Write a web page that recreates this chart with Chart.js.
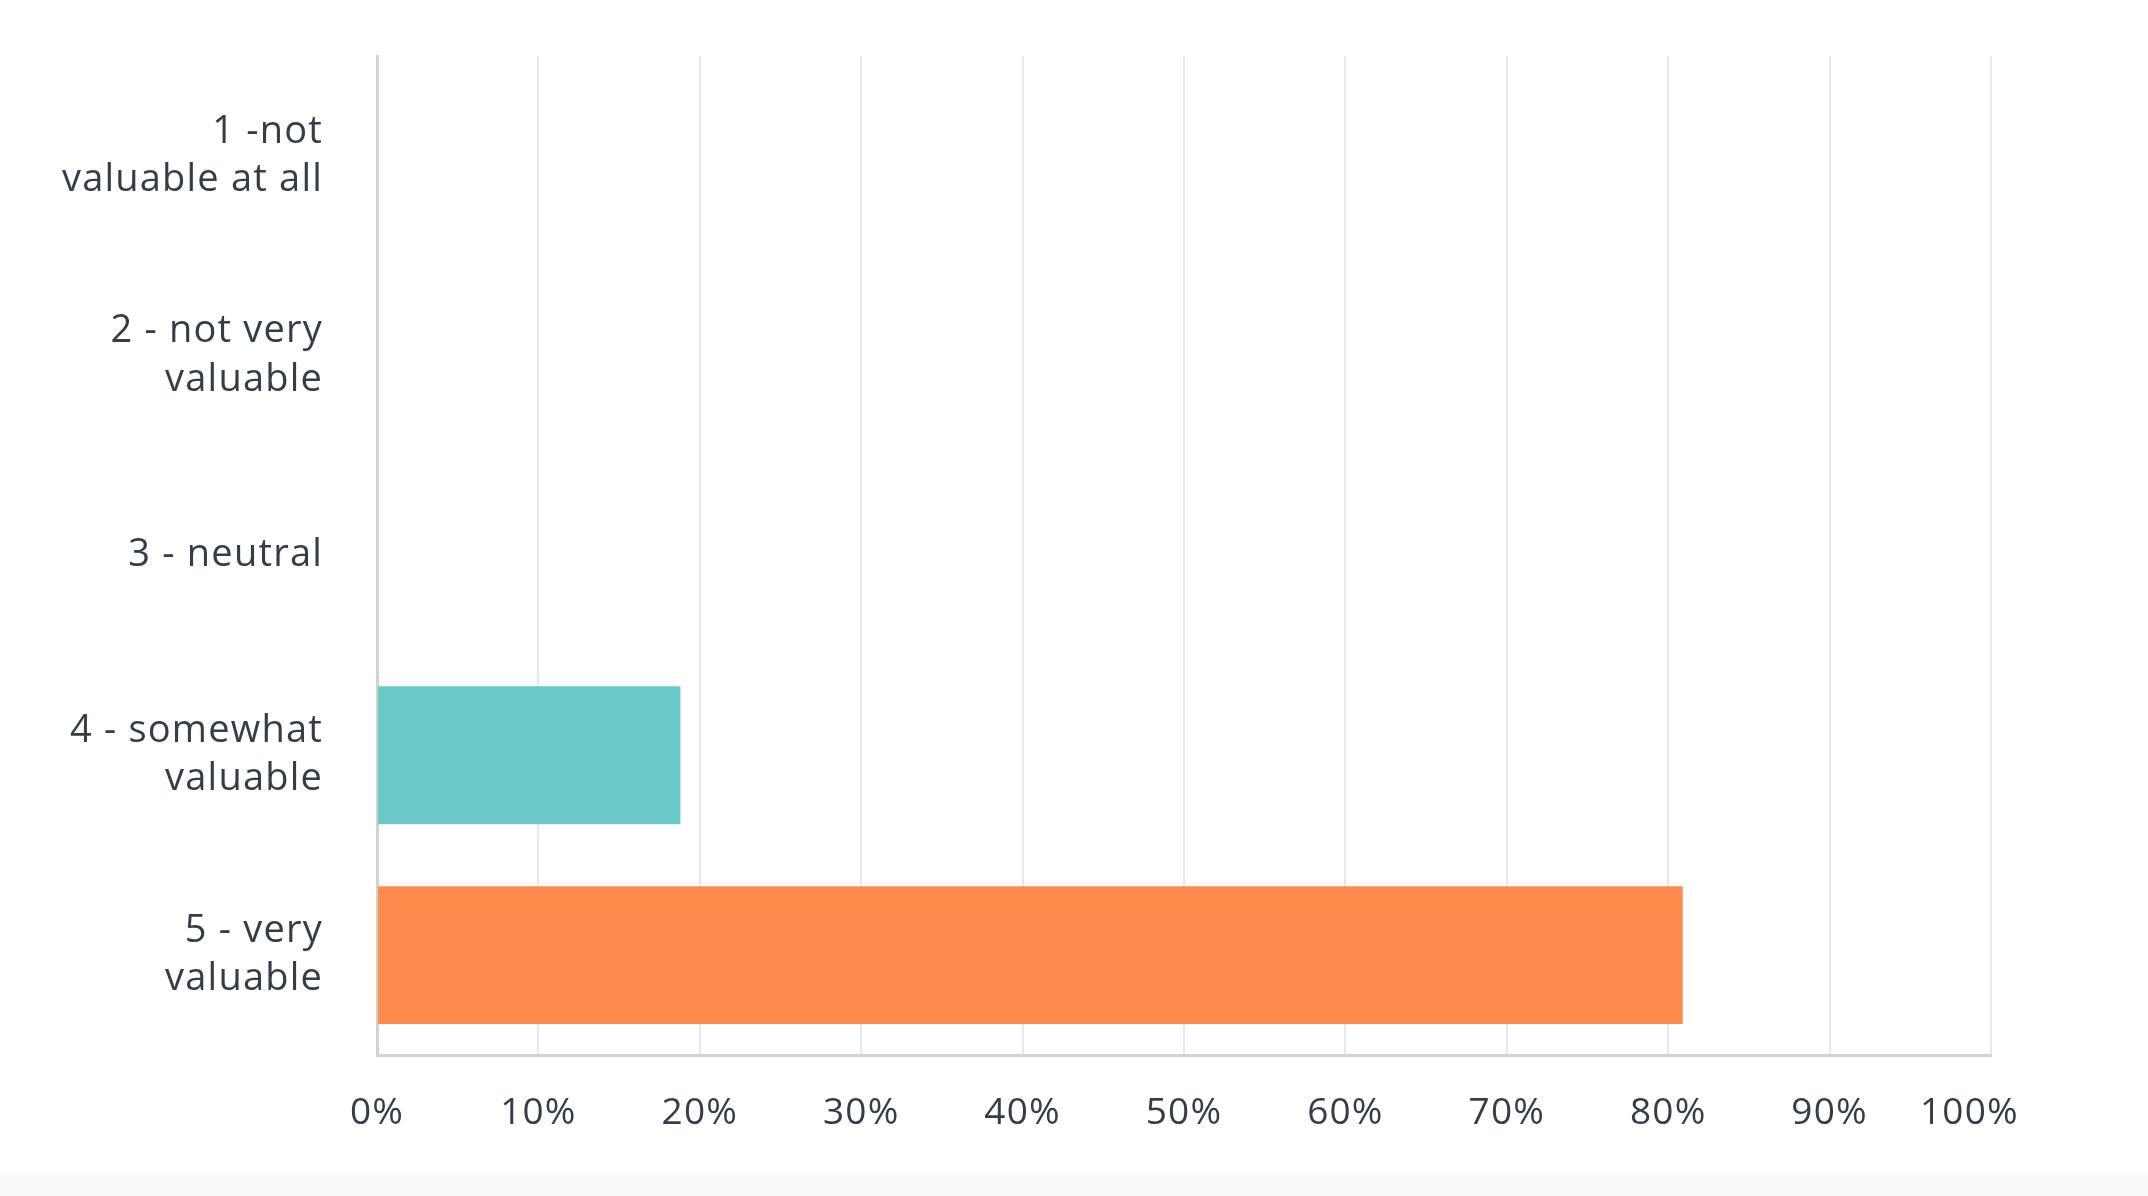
<!DOCTYPE html>
<html>
<head>
<meta charset="utf-8">
<title>How valuable</title>
<script src="https://cdn.jsdelivr.net/npm/chart.js@4.4.0/dist/chart.umd.min.js"></script>
<style>
    html, body {
        margin: 0;
        padding: 0;
        background: #ffffff;
    }
    #wrap {
        position: relative;
        width: 2148px;
        height: 1196px;
        background: linear-gradient(#ffffff 0, #ffffff 1170px, #f9f9f9 1176px, #f9f9f9 100%);
    }
</style>
</head>
<body>
<div id="wrap">
    <canvas id="chart" width="2148" height="1196"></canvas>
</div>
<script>
// Answer choices (one line per array entry)
const categories = [
    ['1 -not', 'valuable at all'],
    ['2 - not very', 'valuable'],
    ['3 - neutral'],
    ['4 - somewhat', 'valuable'],
    ['5 - very', 'valuable']
];

// Share of responses, percent
const responses = [0, 0, 0, 18.8, 80.9];

const barColors = ['#00bf6f', '#507cb6', '#f9be00', '#6bc8c9', '#ff8b4f'];

const tickValues = [0, 10, 20, 30, 40, 50, 60, 70, 80, 90, 100];

const textColor = '#333e48';
const fontFamily = "'Open Sans', Lato, sans-serif";

// the original typeface is set a little looser
const looseText = {
    id: 'looseText',
    beforeDraw(chart) {
        chart.ctx.letterSpacing = '1.2px';
    }
};

const ctx = document.getElementById('chart').getContext('2d');
new Chart(ctx, {
    type: 'bar',
    data: {
        labels: categories,
        datasets: [{
            data: responses,
            backgroundColor: barColors,
            borderWidth: 0,
            barPercentage: 0.69,
            categoryPercentage: 1
        }]
    },
    plugins: [looseText],
    options: {
        indexAxis: 'y',
        responsive: false,
        animation: false,
        layout: {
            padding: { top: 56, right: 157, bottom: 0, left: 0 }
        },
        plugins: {
            legend: { display: false },
            tooltip: { enabled: false }
        },
        scales: {
            x: {
                min: 0,
                max: 100,
                afterBuildTicks: function(axis) {
                    axis.ticks = tickValues.map(v => ({ value: v }));
                },
                afterFit: function(axis) {
                    axis.height = 141;
                    axis.paddingLeft = 0;
                    axis.paddingRight = 0;
                },
                ticks: {
                    // last label sits a little left of its gridline in the original
                    callback: function(value) {
                        return value === 100 ? value + '%    ' : value + '%';
                    },
                    color: textColor,
                    padding: 36,
                    maxRotation: 0,
                    font: { family: fontFamily, size: 37 }
                },
                grid: {
                    color: '#e8e8e8',
                    lineWidth: 2,
                    drawTicks: false
                },
                border: {
                    display: true,
                    color: '#d2d2d2',
                    width: 3
                }
            },
            y: {
                afterFit: function(axis) {
                    axis.width = 377;
                    // labels may overflow the plot top, like the original
                    axis.paddingTop = 0;
                    axis.paddingBottom = 0;
                },
                ticks: {
                    color: textColor,
                    padding: 54,
                    font: { family: fontFamily, size: 38, lineHeight: 1.27 }
                },
                grid: {
                    display: false,
                    drawTicks: false
                },
                border: {
                    display: true,
                    color: '#d2d2d2',
                    width: 3
                }
            }
        }
    }
});
</script>
</body>
</html>
